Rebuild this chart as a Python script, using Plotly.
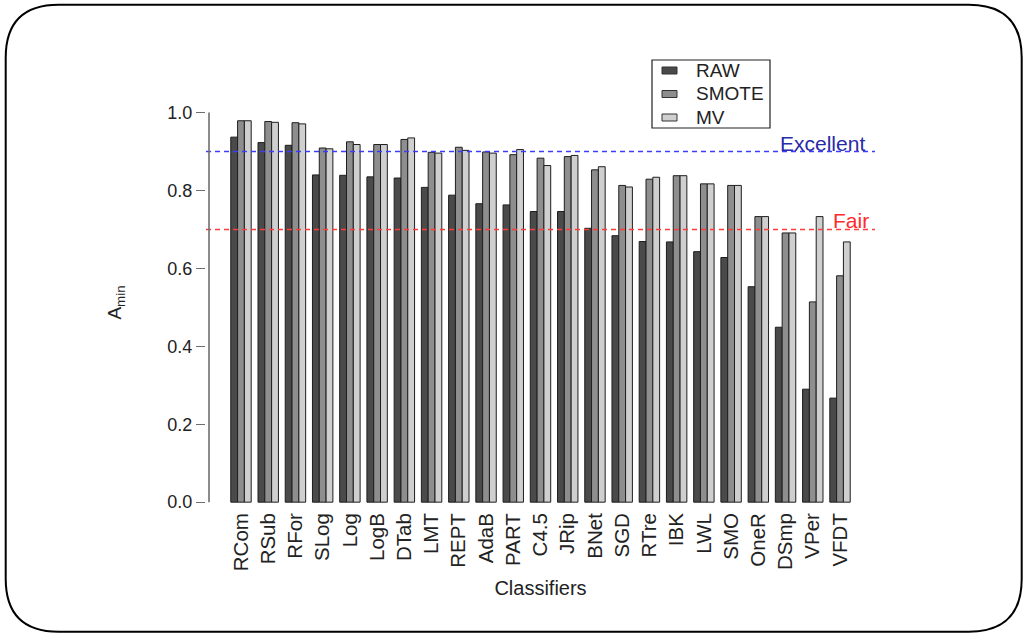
import plotly.graph_objects as go

# Classifier names along the x axis
classifiers = ["RCom", "RSub", "RFor", "SLog", "Log", "LogB", "DTab", "LMT", "REPT",
               "AdaB", "PART", "C4.5", "JRip", "BNet", "SGD", "RTre", "IBK", "LWL",
               "SMO", "OneR", "DSmp", "VPer", "VFDT"]

# A_min per classifier for each data treatment
raw_vals = [0.937, 0.923, 0.916, 0.840, 0.839, 0.835, 0.832, 0.808, 0.788,
            0.766, 0.763, 0.746, 0.746, 0.703, 0.684, 0.669, 0.668, 0.643,
            0.628, 0.553, 0.449, 0.290, 0.267]
smote_vals = [0.979, 0.977, 0.974, 0.909, 0.925, 0.918, 0.931, 0.898, 0.911,
              0.899, 0.892, 0.883, 0.887, 0.853, 0.813, 0.829, 0.838, 0.817,
              0.813, 0.733, 0.691, 0.514, 0.581]
mv_vals = [0.979, 0.975, 0.971, 0.907, 0.918, 0.918, 0.935, 0.896, 0.903,
           0.896, 0.905, 0.864, 0.890, 0.861, 0.809, 0.834, 0.838, 0.817,
           0.813, 0.733, 0.691, 0.733, 0.668]

series_names = ["RAW", "SMOTE", "MV"]
series_colors = ["#4a4a4a", "#8e8e8e", "#cfcfcf"]

y_ticks = [0.0, 0.2, 0.4, 0.6, 0.8, 1.0]
excellent_level = 0.9
fair_level = 0.7

W, H = 1025, 636
ML, MR, MT, MB = 206, 150, 97, 128
PW, PH = W - ML - MR, H - MT - MB


def px_x(p):
    return (p - ML) / PW


def px_y(p):
    return (H - MB - p) / PH


FONT = "Liberation Sans, Arial, sans-serif"
TXT = "#222222"

fig = go.Figure()
for name, vals, col in zip(series_names, [raw_vals, smote_vals, mv_vals], series_colors):
    fig.add_trace(go.Bar(
        x=classifiers, y=vals, name=name,
        marker=dict(color=col, line=dict(color="#1e1e1e", width=1)),
    ))

# reference levels
for lvl, col in [(excellent_level, "#3c3cff"), (fair_level, "#ff3c3c")]:
    fig.add_shape(type="line", xref="paper", yref="y", x0=0, x1=1, y0=lvl, y1=lvl,
                  line=dict(color=col, width=1.5, dash="5px,4px"), layer="above")

fig.add_annotation(text="Excellent", xref="paper", yref="y", x=px_x(867), y=excellent_level,
                   xanchor="right", yanchor="bottom", yshift=-5, showarrow=False,
                   font=dict(family=FONT, size=21, color="#2a2aa8"))
fig.add_annotation(text="Fair", xref="paper", yref="y", x=px_x(871), y=fair_level,
                   xanchor="right", yanchor="bottom", yshift=-5, showarrow=False,
                   font=dict(family=FONT, size=21, color="#ff2a2a"))

# y axis line spanning only the tick range
fig.add_shape(type="line", xref="paper", yref="y", x0=px_x(209), x1=px_x(209),
              y0=y_ticks[0], y1=y_ticks[-1], line=dict(color="#6e6e6e", width=1.6))

# legend box with swatches
fig.add_shape(type="rect", xref="paper", yref="paper",
              x0=px_x(652), x1=px_x(770), y0=px_y(60), y1=px_y(128),
              line=dict(color="#222222", width=1.2), fillcolor="white", layer="above")
for i, (name, col) in enumerate(zip(series_names, series_colors)):
    cy = 70.5 + i * 23.5
    fig.add_shape(type="rect", xref="paper", yref="paper",
                  x0=px_x(662), x1=px_x(677), y0=px_y(cy - 3.5), y1=px_y(cy + 3.5),
                  line=dict(color="#333333", width=1), fillcolor=col, layer="above")
    fig.add_annotation(text=name, xref="paper", yref="paper", x=px_x(694), y=px_y(cy),
                       xanchor="left", yanchor="middle", showarrow=False,
                       font=dict(family=FONT, size=19, color=TXT))

# rounded frame around the whole figure
x0, x1, y0, y1, r = 5.7, 1021.7, 4.7, 631.7, 53
pts = [
    ("M", x0 + r, y0), ("L", x1 - r, y0), ("Q", x1, y0, x1, y0 + r),
    ("L", x1, y1 - r), ("Q", x1, y1, x1 - r, y1), ("L", x0 + r, y1),
    ("Q", x0, y1, x0, y1 - r), ("L", x0, y0 + r), ("Q", x0, y0, x0 + r, y0),
]
path = ""
for seg in pts:
    cmd, coords = seg[0], seg[1:]
    conv = []
    for i in range(0, len(coords), 2):
        conv.append(f"{px_x(coords[i]):.5f},{px_y(coords[i + 1]):.5f}")
    path += cmd + " " + " ".join(conv) + " "
path += "Z"
fig.add_shape(type="path", xref="paper", yref="paper", path=path,
              line=dict(color="#000000", width=2), fillcolor="rgba(0,0,0,0)", layer="below")

fig.update_layout(
    width=W, height=H,
    margin=dict(l=ML, r=MR, t=MT, b=MB, pad=0),
    paper_bgcolor="white", plot_bgcolor="white",
    barmode="group", bargap=0.25, bargroupgap=0,
    font=dict(family=FONT, size=18, color=TXT),
    showlegend=False,
    xaxis=dict(range=[-1.285, 22 + 1.285], showgrid=False, zeroline=False,
               showline=False, ticks="", tickangle=-90,
               tickfont=dict(size=20.5, color=TXT),
               title=dict(text="Classifiers", font=dict(size=20, color=TXT), standoff=10)),
    yaxis=dict(range=[-0.015, 1.04], tickvals=y_ticks, tickformat=".1f",
               showgrid=False, zeroline=False, showline=False,
               ticks="outside", ticklen=9, tickwidth=1.4, tickcolor="#6e6e6e",
               tickfont=dict(size=18, color=TXT),
               title=dict(text="A<sub>min</sub>", font=dict(size=19, color=TXT), standoff=40)),
)

fig.write_html("out.html")
